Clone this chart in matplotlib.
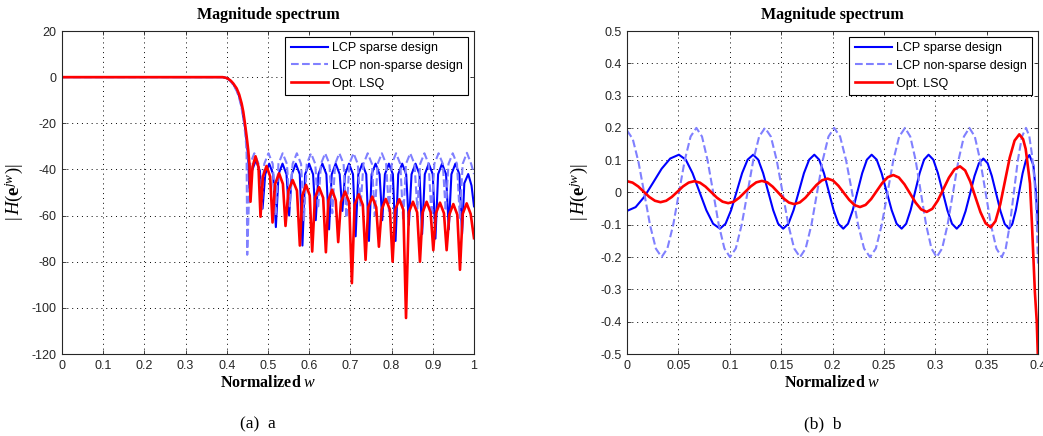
"""Magnitude spectrum of sparse vs non-sparse LCP designs and the LSQ filter.

Left: full band in dB.  Right: zoom on the passband ripple.
"""
import matplotlib
matplotlib.use("Agg")
import matplotlib.pyplot as plt

# ---------------------------------------------------------------- data
# (a) full band, magnitude in dB
sparse_x = [0.0, 0.1, 0.2, 0.3, 0.39, 0.398, 0.404, 0.41, 0.416, 0.424, 0.43, 0.436, 0.444, 0.448, 0.452,
            0.4545, 0.461, 0.4706, 0.4803,
            0.4868, 0.4933, 0.5029, 0.5126,
            0.5191, 0.5256, 0.5352, 0.5449,
            0.5513, 0.5578, 0.5674, 0.5771,
            0.5836, 0.5901, 0.5997, 0.6094,
            0.6159, 0.6224, 0.632, 0.6417,
            0.6482, 0.6547, 0.6643, 0.674,
            0.6805, 0.687, 0.6966, 0.7063,
            0.7127, 0.7192, 0.7288, 0.7385,
            0.745, 0.7515, 0.7611, 0.7708,
            0.7773, 0.7838, 0.7934, 0.8031,
            0.8096, 0.8161, 0.8257, 0.8354,
            0.8419, 0.8484, 0.858, 0.8677,
            0.8741, 0.8806, 0.8902, 0.8999,
            0.9064, 0.9129, 0.9225, 0.9322,
            0.9387, 0.9452, 0.9548, 0.9645,
            0.971, 0.9765, 0.986, 0.994, 1.0]
sparse_db = [0, 0, 0, 0, 0, -0.3, -0.9, -1.8, -3.1, -5.5, -8.3, -12.5, -21.5, -27.5, -35,
             -48, -40.6, -36, -40.6,
             -57, -42.1, -37.5, -42.1,
             -65, -42.1, -37.5, -42.1,
             -60, -42.1, -37.5, -42.1,
             -73, -42.1, -37.5, -42.1,
             -62, -42.1, -37.5, -42.1,
             -66, -42.1, -37.5, -42.1,
             -58, -42.1, -37.5, -42.1,
             -69, -42.1, -37.5, -42.1,
             -71, -42.1, -37.5, -42.1,
             -62, -42.1, -37.5, -42.1,
             -71, -42.1, -37.5, -42.1,
             -64, -42.1, -37.5, -42.1,
             -68, -42.1, -37.5, -42.1,
             -70, -42.1, -37.5, -42.1,
             -66, -42.1, -37.5, -42.1,
             -68, -46, -42, -47, -56]

nonsparse_x = [0.0, 0.1, 0.2, 0.3, 0.39, 0.398, 0.404, 0.41, 0.416, 0.424, 0.43, 0.436, 0.442, 0.446, 0.448,
               0.4496, 0.4565, 0.4668, 0.4771,
               0.484, 0.4909, 0.5012, 0.5115,
               0.5184, 0.5253, 0.5356, 0.5459,
               0.5528, 0.5597, 0.57, 0.5803,
               0.5872, 0.5941, 0.6044, 0.6147,
               0.6216, 0.6285, 0.6388, 0.6491,
               0.656, 0.6629, 0.6732, 0.6835,
               0.6904, 0.6973, 0.7076, 0.7179,
               0.7248, 0.7317, 0.742, 0.7523,
               0.7592, 0.7661, 0.7764, 0.7867,
               0.7936, 0.8005, 0.8108, 0.8211,
               0.828, 0.8349, 0.8452, 0.8555,
               0.8624, 0.8693, 0.8796, 0.8899,
               0.8968, 0.9037, 0.914, 0.9243,
               0.9312, 0.9381, 0.9484, 0.9587,
               0.9656, 0.9725, 0.9828, 0.9931, 1.0]
nonsparse_db = [0, 0, 0, 0, 0, -0.4, -1, -2, -3.4, -6, -9, -13.5, -20, -27, -33,
                -77, -37.6, -33, -37.6,
                -58, -37.6, -33, -37.6,
                -60, -37.6, -33, -37.6,
                -56, -37.6, -33, -37.6,
                -62, -37.6, -33, -37.6,
                -57, -37.6, -33, -37.6,
                -59, -37.6, -33, -37.6,
                -61, -37.6, -33, -37.6,
                -56, -37.6, -33, -37.6,
                -60, -37.6, -33, -37.6,
                -58, -37.6, -33, -37.6,
                -62, -37.6, -33, -37.6,
                -57, -37.6, -33, -37.6,
                -60, -37.6, -33, -37.6,
                -58, -37.6, -33, -37.6,
                -61, -37.6, -32.8, -37.6, -42]

lsq_x = [0.0, 0.1, 0.2, 0.3, 0.39, 0.398, 0.404, 0.41, 0.416, 0.424, 0.43, 0.436, 0.44, 0.444, 0.448, 0.452, 0.455,
         0.4575, 0.4624, 0.4697, 0.4769,
         0.4818, 0.4876, 0.4964, 0.5052,
         0.511, 0.5173, 0.5268, 0.5362,
         0.5425, 0.5495, 0.5599, 0.5703,
         0.5773, 0.5833, 0.5923, 0.6013,
         0.6073, 0.6139, 0.6239, 0.6339,
         0.6405, 0.6465, 0.6555, 0.6644,
         0.6704, 0.677, 0.687, 0.697,
         0.7036, 0.7102, 0.7202, 0.7302,
         0.7368, 0.7433, 0.753, 0.7627,
         0.7692, 0.7758, 0.7858, 0.7958,
         0.8024, 0.8089, 0.8187, 0.8285,
         0.835, 0.8418, 0.8519, 0.862,
         0.8688, 0.8753, 0.885, 0.8947,
         0.9012, 0.9077, 0.9174, 0.9271,
         0.9336, 0.9401, 0.9498, 0.9595,
         0.966, 0.9725, 0.9822, 0.9919, 1.0]
lsq_db = [0, 0, 0, 0, 0, -0.3, -0.8, -1.6, -2.8, -4.9, -7.5, -11.4, -15, -20, -25.5, -31.6, -38,
          -54, -38.9, -34.3, -38.9,
          -60.5, -43.1, -38.5, -43.1,
          -63, -46.3, -41.7, -46.3,
          -64.5, -49.2, -44.6, -49.2,
          -73, -51.3, -46.7, -51.3,
          -75.6, -52.3, -47.7, -52.3,
          -75.9, -53.4, -48.8, -53.4,
          -71.5, -54.2, -49.6, -54.2,
          -89.3, -55.4, -50.8, -55.4,
          -79.2, -56.4, -51.8, -56.4,
          -73.5, -57.4, -52.8, -57.4,
          -80, -57.5, -52.9, -57.5,
          -104.4, -58.6, -54, -58.6,
          -80, -58.6, -54, -58.6,
          -75, -59, -54.4, -59,
          -75, -59.6, -55, -59.6,
          -83.5, -59.3, -54.7, -59.3, -69.8]

# (b) passband ripple
pb_sparse_x = [0.0, 0.0084, 0.0168, 0.0253, 0.0337, 0.0421,
               0.0505, 0.0572, 0.0638, 0.0705, 0.0772, 0.0838,
               0.0905, 0.0959, 0.1013, 0.1067, 0.112, 0.1174,
               0.1228, 0.1277, 0.1325, 0.1374, 0.1423, 0.1471,
               0.152, 0.1571, 0.1621, 0.1672, 0.1722, 0.1773,
               0.1823, 0.187, 0.1917, 0.1964, 0.2011, 0.2058,
               0.2105, 0.2151, 0.2197, 0.2243, 0.2289, 0.2335,
               0.2381, 0.243, 0.2478, 0.2527, 0.2576, 0.2624,
               0.2673, 0.2717, 0.276, 0.2804, 0.2848, 0.2891,
               0.2935, 0.2981, 0.3026, 0.3072, 0.3118, 0.3163,
               0.3209, 0.3252, 0.3295, 0.3339, 0.3382, 0.3425,
               0.3468, 0.351, 0.3551, 0.3593, 0.3635, 0.3676,
               0.3718, 0.3751, 0.3784, 0.3817, 0.385, 0.3883,
               0.3916, 0.3955, 0.398, 0.4]
pb_sparse_y = [-0.057, -0.0453, -0.0135, 0.03, 0.0735, 0.1053,
               0.117, 0.1017, 0.0598, 0.0025, -0.0548, -0.0967,
               -0.112, -0.0967, -0.0548, 0.0025, 0.0598, 0.1017,
               0.117, 0.1017, 0.0598, 0.0025, -0.0548, -0.0967,
               -0.112, -0.0967, -0.0548, 0.0025, 0.0598, 0.1017,
               0.117, 0.1017, 0.0598, 0.0025, -0.0548, -0.0967,
               -0.112, -0.0967, -0.0548, 0.0025, 0.0598, 0.1017,
               0.117, 0.1017, 0.0598, 0.0025, -0.0548, -0.0967,
               -0.112, -0.0967, -0.0548, 0.0025, 0.0598, 0.1017,
               0.117, 0.1017, 0.0598, 0.0025, -0.0548, -0.0967,
               -0.112, -0.0975, -0.0578, -0.0035, 0.0508, 0.0905,
               0.105, 0.0905, 0.0508, -0.0035, -0.0578, -0.0975,
               -0.112, -0.0967, -0.055, 0.002, 0.059, 0.1007,
               0.116, 0.085, 0.0, -0.12]

pb_nonsparse_x = [0.0, 0.0056, 0.0112, 0.0169, 0.0225, 0.0281,
                  0.0337, 0.0393, 0.045, 0.0506, 0.0562, 0.0619,
                  0.0675, 0.073, 0.0784, 0.0839, 0.0893, 0.0948,
                  0.1002, 0.1059, 0.1116, 0.1173, 0.1229, 0.1286,
                  0.1343, 0.14, 0.1457, 0.1514, 0.157, 0.1627,
                  0.1684, 0.1739, 0.1795, 0.185, 0.1905, 0.1961,
                  0.2016, 0.2074, 0.2132, 0.2191, 0.2249, 0.2307,
                  0.2365, 0.2422, 0.2479, 0.2536, 0.2592, 0.2649,
                  0.2706, 0.2757, 0.2809, 0.286, 0.2911, 0.2963,
                  0.3014, 0.3067, 0.312, 0.3173, 0.3226, 0.3279,
                  0.3332, 0.3385, 0.3437, 0.349, 0.3542, 0.3595,
                  0.3647, 0.3686, 0.3726, 0.3765, 0.3804, 0.3844,
                  0.3883, 0.3915, 0.394, 0.3965, 0.3985, 0.4]
pb_nonsparse_y = [0.192, 0.1657, 0.094, -0.004, -0.102, -0.1737,
                  -0.2, -0.1732, -0.1, 0.0, 0.1, 0.1732,
                  0.2, 0.1732, 0.1, 0.0, -0.1, -0.1732,
                  -0.2, -0.1732, -0.1, 0.0, 0.1, 0.1732,
                  0.2, 0.1732, 0.1, 0.0, -0.1, -0.1732,
                  -0.2, -0.1732, -0.1, 0.0, 0.1, 0.1732,
                  0.2, 0.1732, 0.1, 0.0, -0.1, -0.1732,
                  -0.2, -0.1732, -0.1, 0.0, 0.1, 0.1732,
                  0.2, 0.1732, 0.1, 0.0, -0.1, -0.1732,
                  -0.2, -0.1732, -0.1, 0.0, 0.1, 0.1732,
                  0.2, 0.1732, 0.1, 0.0, -0.1, -0.1732,
                  -0.2, -0.1732, -0.1, 0.0, 0.1, 0.1732,
                  0.2, 0.175, 0.12, 0.04, -0.06, -0.22]

pb_lsq_x = [0.0, 0.0054, 0.0109, 0.0163, 0.0217, 0.0272,
            0.0326, 0.0381, 0.0436, 0.0491, 0.0545, 0.06,
            0.0655, 0.071, 0.0765, 0.082, 0.0875, 0.093,
            0.0985, 0.104, 0.1094, 0.1149, 0.1204, 0.1258,
            0.1313, 0.1366, 0.1418, 0.1471, 0.1523, 0.1576,
            0.1628, 0.1682, 0.1736, 0.179, 0.1844, 0.1898,
            0.1952, 0.2005, 0.2057, 0.211, 0.2163, 0.2215,
            0.2268, 0.2322, 0.2376, 0.243, 0.2484, 0.2538,
            0.2592, 0.2646, 0.27, 0.2755, 0.2809, 0.2863,
            0.2917, 0.2971, 0.3025, 0.3079, 0.3133, 0.3187,
            0.3241, 0.3291, 0.3341, 0.339, 0.344, 0.349,
            0.354, 0.3586, 0.3633, 0.3679, 0.3725, 0.3772,
            0.3818, 0.3855, 0.388, 0.39, 0.3922, 0.394, 0.3955, 0.397, 0.3988, 0.4]
pb_lsq_y = [0.035, 0.0306, 0.0188, 0.0025, -0.0138, -0.0256,
            -0.03, -0.0256, -0.0138, 0.0025, 0.0188, 0.0306,
            0.035, 0.0304, 0.018, 0.001, -0.016, -0.0284,
            -0.033, -0.0284, -0.0158, 0.0015, 0.0188, 0.0314,
            0.036, 0.0312, 0.018, 0.0, -0.018, -0.0312,
            -0.036, -0.0307, -0.0163, 0.0035, 0.0233, 0.0377,
            0.043, 0.0371, 0.021, -0.001, -0.023, -0.0391,
            -0.045, -0.0384, -0.0203, 0.0045, 0.0293, 0.0474,
            0.054, 0.0464, 0.0255, -0.003, -0.0315, -0.0524,
            -0.06, -0.0506, -0.0248, 0.0105, 0.0458, 0.0716,
            0.081, 0.0683, 0.0338, -0.0135, -0.0608, -0.0953,
            -0.108, -0.0887, -0.036, 0.036, 0.108, 0.1607,
            0.18, 0.165, 0.135, 0.085, 0.028, -0.09, -0.2, -0.31, -0.4, -0.52]

labels = ["LCP sparse design", "LCP non-sparse design", "Opt. LSQ"]

full_xticks = [0, 0.1, 0.2, 0.3, 0.4, 0.5, 0.6, 0.7, 0.8, 0.9, 1]
full_xlabels = ["0", "0.1", "0.2", "0.3", "0.4", "0.5", "0.6", "0.7", "0.8", "0.9", "1"]
full_yticks = [-120, -100, -80, -60, -40, -20, 0, 20]
pb_xticks = [0, 0.05, 0.1, 0.15, 0.2, 0.25, 0.3, 0.35, 0.4]
pb_xlabels = ["0", "0.05", "0.1", "0.15", "0.2", "0.25", "0.3", "0.35", "0.4"]
pb_yticks = [-0.5, -0.4, -0.3, -0.2, -0.1, 0, 0.1, 0.2, 0.3, 0.4, 0.5]
pb_ylabels = ["-0.5", "-0.4", "-0.3", "-0.2", "-0.1", "0", "0.1", "0.2", "0.3", "0.4", "0.5"]

# ---------------------------------------------------------------- style
SERIF = "Liberation Serif"
SANS = "Liberation Sans"
plt.rcParams["font.family"] = SANS
plt.rcParams["axes.unicode_minus"] = False
plt.rcParams["mathtext.fontset"] = "custom"
plt.rcParams["mathtext.rm"] = SERIF
plt.rcParams["mathtext.it"] = SERIF + ":italic"
plt.rcParams["mathtext.bf"] = SERIF + ":bold"

C_SPARSE = "#0000ff"
C_NONSPARSE = "#8080ff"
C_LSQ = "#ff0000"
TICK_COLOR = "#262626"


def draw_panel(ax, xs, ys, xlim, ylim, xticks, xlabels, yticks, ylabels):
    """Plot the three responses and dress the axes MATLAB-style."""
    ax.plot(xs[0], ys[0], color=C_SPARSE, lw=1.5, label=labels[0])
    ax.plot(xs[1], ys[1], color=C_NONSPARSE, lw=1.5, ls="--", label=labels[1])
    ax.plot(xs[2], ys[2], color=C_LSQ, lw=1.9, label=labels[2])

    ax.set_xlim(*xlim)
    ax.set_ylim(*ylim)
    ax.set_xticks(xticks)
    ax.set_xticklabels(xlabels)
    ax.set_yticks(yticks)
    ax.set_yticklabels(ylabels)
    ax.tick_params(direction="in", length=3, width=0.6, top=True, right=True,
                   labelsize=9, labelcolor=TICK_COLOR, color=TICK_COLOR, pad=4)
    for s in ax.spines.values():
        s.set_linewidth(0.8)
        s.set_color(TICK_COLOR)
    ax.grid(True, color="#000000", lw=0.7, ls=(0, (1, 4)))

    ax.set_title("Magnitude spectrum", family=SERIF, weight="bold",
                 fontsize=11.5, pad=8.5)
    ax.set_xlabel(r"Normalized $w$", family=SERIF, weight="bold", fontsize=11.5)
    ax.xaxis.set_label_coords(0.5, -0.065)
    ax.xaxis.label.set_va("top")
    ax.set_ylabel(r"$|\,H(\mathbf{e}^{jw})|$", fontsize=13.5)
    ax.yaxis.set_label_coords(-0.09, 0.5)

    leg = ax.legend(loc="upper right", fontsize=9, handlelength=3.0,
                    handletextpad=0.3, borderpad=0.45, labelspacing=0.45,
                    borderaxespad=0.45, fancybox=False, framealpha=1)
    leg.get_frame().set_edgecolor("#000000")
    leg.get_frame().set_linewidth(0.8)


W, H = 1043, 436
fig = plt.figure(figsize=(W / 100, H / 100), dpi=100)

ax_a = fig.add_axes([62 / W, 1 - 354 / H, 412 / W, 323 / H])
draw_panel(ax_a,
           [sparse_x, nonsparse_x, lsq_x],
           [sparse_db, nonsparse_db, lsq_db],
           (0, 1), (-120, 20),
           full_xticks, full_xlabels, full_yticks, [str(v) for v in full_yticks])

ax_b = fig.add_axes([627 / W, 1 - 354 / H, 411 / W, 323 / H])
draw_panel(ax_b,
           [pb_sparse_x, pb_nonsparse_x, pb_lsq_x],
           [pb_sparse_y, pb_nonsparse_y, pb_lsq_y],
           (0, 0.4), (-0.5, 0.5),
           pb_xticks, pb_xlabels, pb_yticks, pb_ylabels)

fig.text(258 / W, 1 - 424 / H, "(a)  a", family=SERIF, fontsize=12.5,
         ha="center", va="center")
fig.text(823 / W, 1 - 424 / H, "(b)  b", family=SERIF, fontsize=12.5,
         ha="center", va="center")

fig.savefig("out.png", dpi=100)
